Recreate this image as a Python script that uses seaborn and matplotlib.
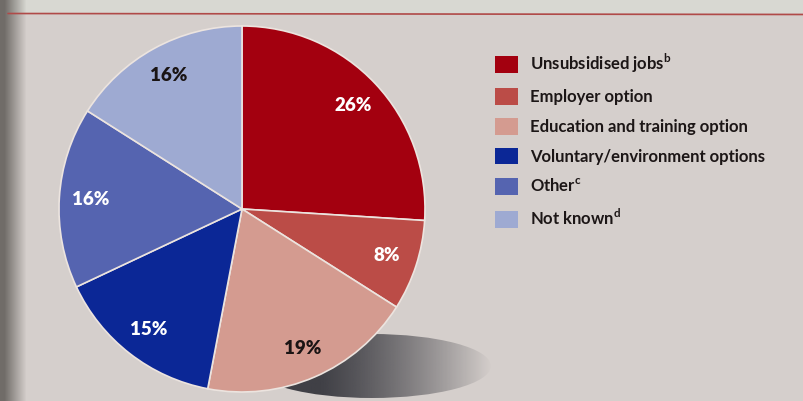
import numpy as np
import matplotlib
matplotlib.use("Agg")
import matplotlib.pyplot as plt
from matplotlib.patches import Ellipse, Patch
import seaborn as sns

# Outcome shares (%)
categories = [
    "Unsubsidised jobs$^{\\mathbf{b}}$",
    "Employer option",
    "Education and training option",
    "Voluntary/environment options",
    "Other$^{\\mathbf{c}}$",
    "Not known$^{\\mathbf{d}}$",
]
shares = [26, 8, 19, 15, 16, 16]
label_colors = ["white", "white", "#1a1414", "white", "white", "#1a1414"]
slice_colors = ["#a3000f", "#bb4c47", "#d49b90", "#0b2796", "#5564b0", "#9eaad2"]

sns.set_theme(style="white")
plt.rcParams["font.family"] = ["Lato", "DejaVu Sans"]
plt.rcParams["mathtext.fontset"] = "custom"
plt.rcParams["mathtext.bf"] = "Lato:bold"
plt.rcParams["mathtext.rm"] = "Lato:bold"

W, H = 804, 401
fig = plt.figure(figsize=(W / 100, H / 100), dpi=100)
bg = "#d5cfcc"
fig.patch.set_facecolor(bg)

# page background: paper tone, lighter strip on top, dark gutter on left
bax = fig.add_axes([0, 0, 1, 1], zorder=0)
img = np.ones((H, W, 3)) * np.array([0xd5, 0xcf, 0xcc]) / 255
img[:13, :] = np.array([0xd8, 0xd8, 0xd2]) / 255
xs = np.arange(W)
gutter = np.clip((xs - 4) / 22, 0, 1)[None, :, None]
dark = np.array([0x70, 0x6c, 0x68]) / 255
img = img * gutter + dark * (1 - gutter)
bax.imshow(img, extent=[0, W, H, 0], aspect="auto")
bax.plot([8, W], [13.5, 14.5], color="#b04a48", lw=1.2)
bax.set_xlim(0, W)
bax.set_ylim(H, 0)
bax.axis("off")

# drop shadow beneath the pie
sax = fig.add_axes([0, 0, 1, 1], zorder=1)
sax.set_xlim(0, W)
sax.set_ylim(H, 0)
sax.axis("off")
gx = np.linspace(0, 1, 300)
grad = np.zeros((10, 300, 4))
grad[..., :3] = np.array([0x40, 0x40, 0x46]) / 255
grad[..., 3] = np.clip(1.15 - gx ** 1.6 * 1.15, 0, 1)[None, :]
shadow = Ellipse((372, 366), 238, 64, facecolor="none", edgecolor="none")
sax.add_patch(shadow)
im = sax.imshow(grad, extent=[255, 492, 398, 334], aspect="auto")
im.set_clip_path(shadow)

# pie
cx, cy, r = 242, 209, 183
ax = fig.add_axes([(cx - r) / W, (H - cy - r) / H, 2 * r / W, 2 * r / H], zorder=2)
wedges, _, autotexts = ax.pie(
    shares,
    colors=slice_colors,
    startangle=90,
    counterclock=False,
    autopct="%d%%",
    pctdistance=0.83,
    wedgeprops=dict(edgecolor="#ece4df", linewidth=1.2),
    textprops=dict(fontsize=13.5, fontweight="heavy"),
)
for t, c in zip(autotexts, label_colors):
    t.set_color(c)
ax.set_xlim(-1, 1)
ax.set_ylim(-1, 1)
ax.set_aspect("equal")
ax.axis("off")

# legend
handles = [Patch(facecolor=c, edgecolor="none") for c in slice_colors]
leg = fig.legend(
    handles,
    categories,
    loc="upper left",
    bbox_to_anchor=(495 / W, 1 - 52 / H),
    frameon=False,
    borderpad=0,
    borderaxespad=0,
    handlelength=1.38,
    handleheight=1.15,
    handletextpad=0.72,
    labelspacing=0.78,
    prop=dict(weight="bold", size=12),
)
for t in leg.get_texts():
    t.set_color("#1c1616")

fig.savefig("out.png", dpi=100, facecolor=fig.get_facecolor())
